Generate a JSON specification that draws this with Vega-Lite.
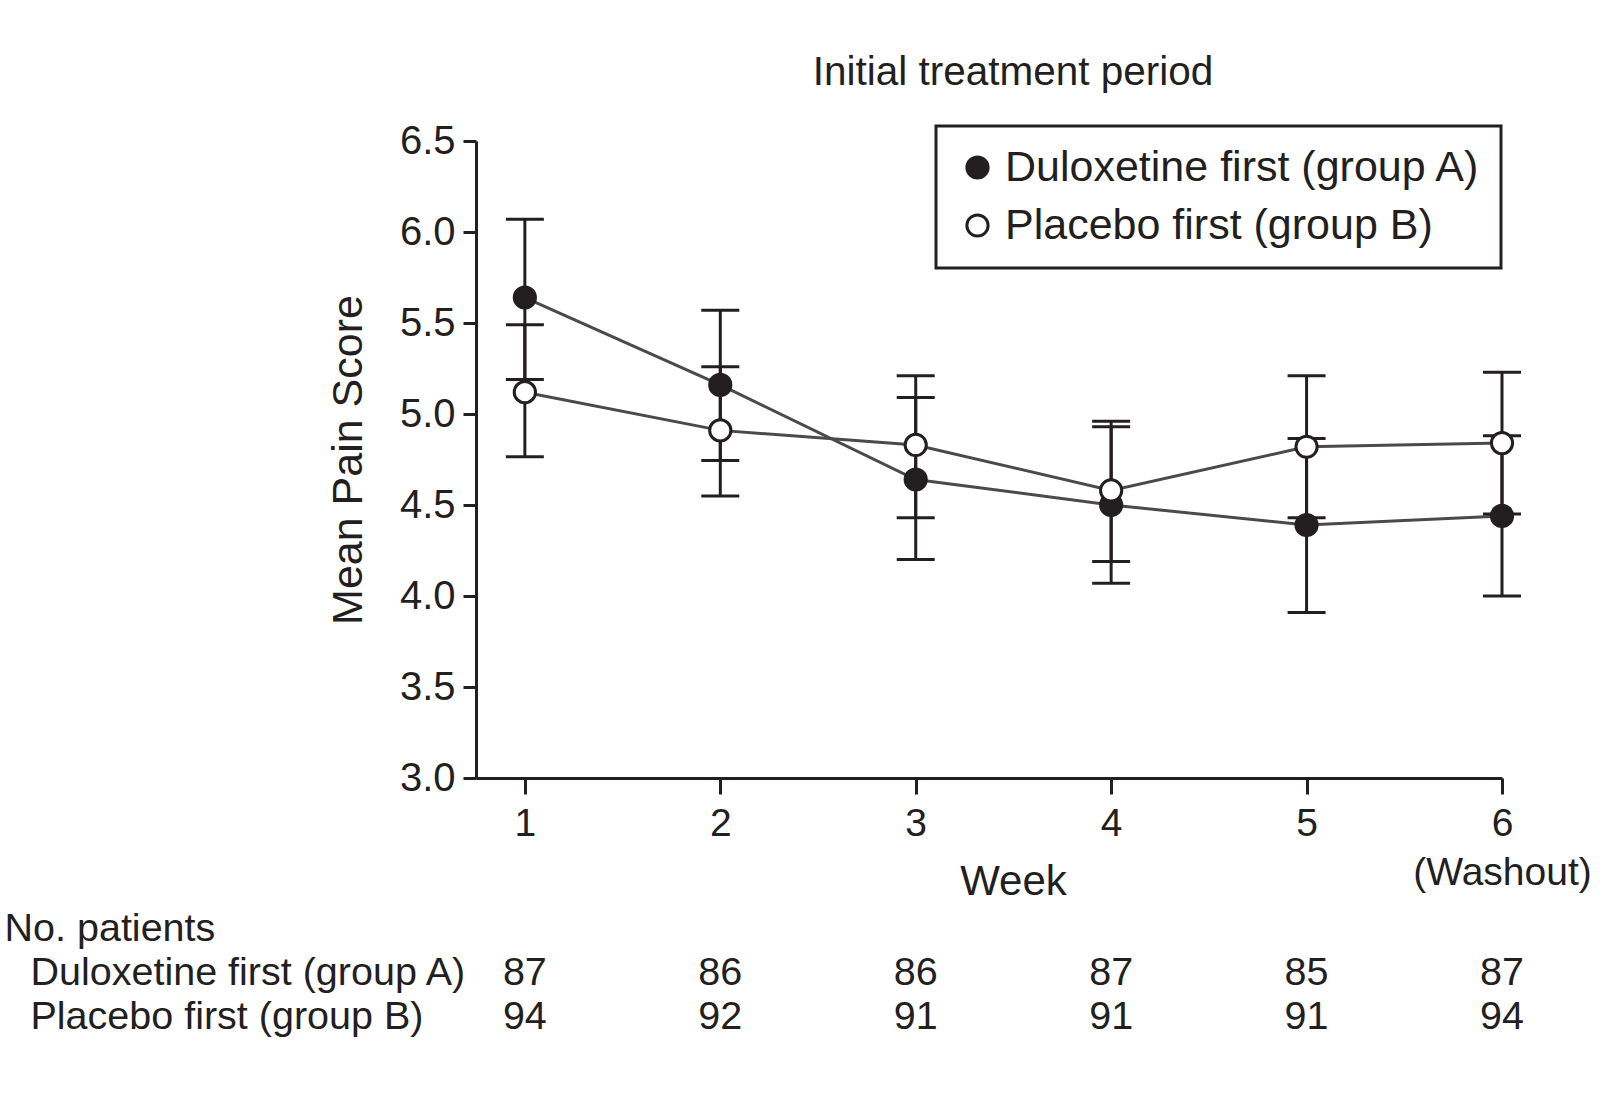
{
  "$schema": "https://vega.github.io/schema/vega-lite/v6.json",
  "background": "white",
  "padding": {"left": 4, "top": 52, "right": 0, "bottom": 0},
  "spacing": 5.5,
  "config": {
    "font": "Liberation Sans",
    "view": {"stroke": null},
    "axis": {
      "grid": false,
      "domainColor": "#231f20",
      "tickColor": "#231f20",
      "labelColor": "#231f20",
      "titleColor": "#231f20",
      "labelFont": "Liberation Sans",
      "titleFont": "Liberation Sans",
      "titleFontWeight": "normal"
    },
    "text": {"font": "Liberation Sans"}
  },
  "datasets": {
    "pain": [
      {"week": 1, "group": "Duloxetine first (group A)", "mean": 5.64, "lo": 5.19, "hi": 6.07, "n": 87},
      {"week": 2, "group": "Duloxetine first (group A)", "mean": 5.16, "lo": 4.745, "hi": 5.57, "n": 86},
      {"week": 3, "group": "Duloxetine first (group A)", "mean": 4.64, "lo": 4.2, "hi": 5.09, "n": 86},
      {"week": 4, "group": "Duloxetine first (group A)", "mean": 4.5, "lo": 4.07, "hi": 4.93, "n": 87},
      {"week": 5, "group": "Duloxetine first (group A)", "mean": 4.39, "lo": 3.91, "hi": 4.865, "n": 85},
      {"week": 6, "group": "Duloxetine first (group A)", "mean": 4.44, "lo": 4.0, "hi": 4.88, "n": 87},
      {"week": 1, "group": "Placebo first (group B)", "mean": 5.12, "lo": 4.765, "hi": 5.49, "n": 94},
      {"week": 2, "group": "Placebo first (group B)", "mean": 4.91, "lo": 4.55, "hi": 5.26, "n": 92},
      {"week": 3, "group": "Placebo first (group B)", "mean": 4.83, "lo": 4.43, "hi": 5.21, "n": 91},
      {"week": 4, "group": "Placebo first (group B)", "mean": 4.58, "lo": 4.19, "hi": 4.96, "n": 91},
      {"week": 5, "group": "Placebo first (group B)", "mean": 4.82, "lo": 4.43, "hi": 5.21, "n": 91},
      {"week": 6, "group": "Placebo first (group B)", "mean": 4.84, "lo": 4.45, "hi": 5.23, "n": 94}
    ]
  },
  "vconcat": [
    {
      "width": 1026,
      "height": 637,
      "title": {
        "text": "Initial treatment period",
        "fontSize": 40.5,
        "fontWeight": "normal",
        "color": "#231f20",
        "anchor": "middle",
        "frame": "group",
        "dx": 24,
        "baseline": "alphabetic",
        "offset": -4
      },
      "data": {"name": "pain"},
      "encoding": {
        "x": {
          "field": "week",
          "type": "quantitative",
          "scale": {"domain": [0.75, 6], "nice": false, "zero": false},
          "axis": {
            "values": [1, 2, 3, 4, 5, 6],
            "format": "d",
            "labelExpr": "datum.value == 6 ? ['6', '(Washout)'] : datum.label",
            "labelFontSize": 39,
            "labelBaseline": "alphabetic",
            "labelPadding": 41,
            "labelLineHeight": 49,
            "labelFlush": false,
            "labelOverlap": false,
            "tickSize": 16,
            "tickWidth": 3,
            "domainWidth": 3,
            "title": "Week",
            "titleFontSize": 42,
            "titleX": 537,
            "titleY": 116,
            "titleBaseline": "alphabetic",
            "titleAlign": "center"
          }
        }
      },
      "layer": [
        {
          "mark": {"type": "line", "stroke": "#4a4a4a", "strokeWidth": 3},
          "encoding": {
            "y": {
              "field": "mean",
              "type": "quantitative",
              "title": "Mean Pain Score",
              "scale": {"domain": [3, 6.5], "nice": false, "zero": false},
              "axis": {
                "values": [3, 3.5, 4, 4.5, 5, 5.5, 6, 6.5],
                "format": ".1f",
                "labelFontSize": 40,
                "labelPadding": 8,
                "tickSize": 13,
                "tickWidth": 3,
                "domainWidth": 3,
                "titleFontSize": 43,
                "titleX": -115,
                "titleY": 318.5,
                "titleAngle": -90,
                "titleBaseline": "alphabetic",
                "titleAlign": "center"
              }
            },
            "detail": {"field": "group"}
          }
        },
        {
          "mark": {"type": "rule", "stroke": "#231f20", "strokeWidth": 3},
          "encoding": {
            "y": {"field": "lo", "type": "quantitative", "title": "Mean Pain Score"},
            "y2": {"field": "hi"}
          }
        },
        {
          "mark": {"type": "tick", "orient": "horizontal", "size": 38, "thickness": 3, "color": "#231f20", "opacity": 1},
          "encoding": {
            "y": {"field": "lo", "type": "quantitative", "title": "Mean Pain Score"}
          }
        },
        {
          "mark": {"type": "tick", "orient": "horizontal", "size": 38, "thickness": 3, "color": "#231f20", "opacity": 1},
          "encoding": {
            "y": {"field": "hi", "type": "quantitative", "title": "Mean Pain Score"}
          }
        },
        {
          "mark": {"type": "point", "shape": "circle", "filled": true, "size": 450, "stroke": "#231f20", "strokeWidth": 3, "opacity": 1},
          "encoding": {
            "y": {"field": "mean", "type": "quantitative", "title": "Mean Pain Score"},
            "fill": {
              "field": "group",
              "type": "nominal",
              "scale": {
                "domain": ["Duloxetine first (group A)", "Placebo first (group B)"],
                "range": ["#231f20", "#ffffff"]
              },
              "legend": {
                "orient": "none",
                "legendX": 460,
                "legendY": -15,
                "title": null,
                "direction": "vertical",
                "labelFontSize": 43,
                "labelLimit": 700,
                "labelColor": "#231f20",
                "symbolType": "circle",
                "symbolSize": 450,
                "symbolStrokeWidth": 3,
                "symbolStrokeColor": "#231f20",
                "symbolOpacity": 1,
                "padding": 20,
                "rowPadding": 14,
                "labelOffset": 6,
                "strokeColor": "#231f20",
                "encode": {
                  "legend": {"update": {"strokeWidth": {"value": 3}}},
                  "symbols": {"update": {"stroke": {"value": "#231f20"}, "strokeWidth": {"value": 3}}}
                }
              }
            }
          }
        }
      ]
    },
    {
      "width": 1026,
      "height": 88,
      "data": {"name": "pain"},
      "mark": {"type": "text", "fontSize": 39.5, "baseline": "alphabetic", "color": "#231f20"},
      "encoding": {
        "x": {
          "field": "week",
          "type": "quantitative",
          "scale": {"domain": [0.75, 6], "nice": false, "zero": false},
          "axis": null
        },
        "y": {
          "field": "group",
          "type": "nominal",
          "scale": {
            "domain": ["Duloxetine first (group A)", "Placebo first (group B)"],
            "paddingInner": 0,
            "paddingOuter": 0
          },
          "axis": {
            "title": "No. patients",
            "titleAngle": 0,
            "titleAlign": "left",
            "titleBaseline": "alphabetic",
            "titleX": -472,
            "titleY": -22.5,
            "titleFontSize": 39.5,
            "domain": false,
            "ticks": false,
            "tickSize": 0,
            "labelAlign": "left",
            "labelBaseline": "alphabetic",
            "labelPadding": 446,
            "labelFontSize": 39.5,
            "labelLimit": 1000
          }
        },
        "text": {"field": "n", "type": "quantitative"}
      }
    }
  ]
}
